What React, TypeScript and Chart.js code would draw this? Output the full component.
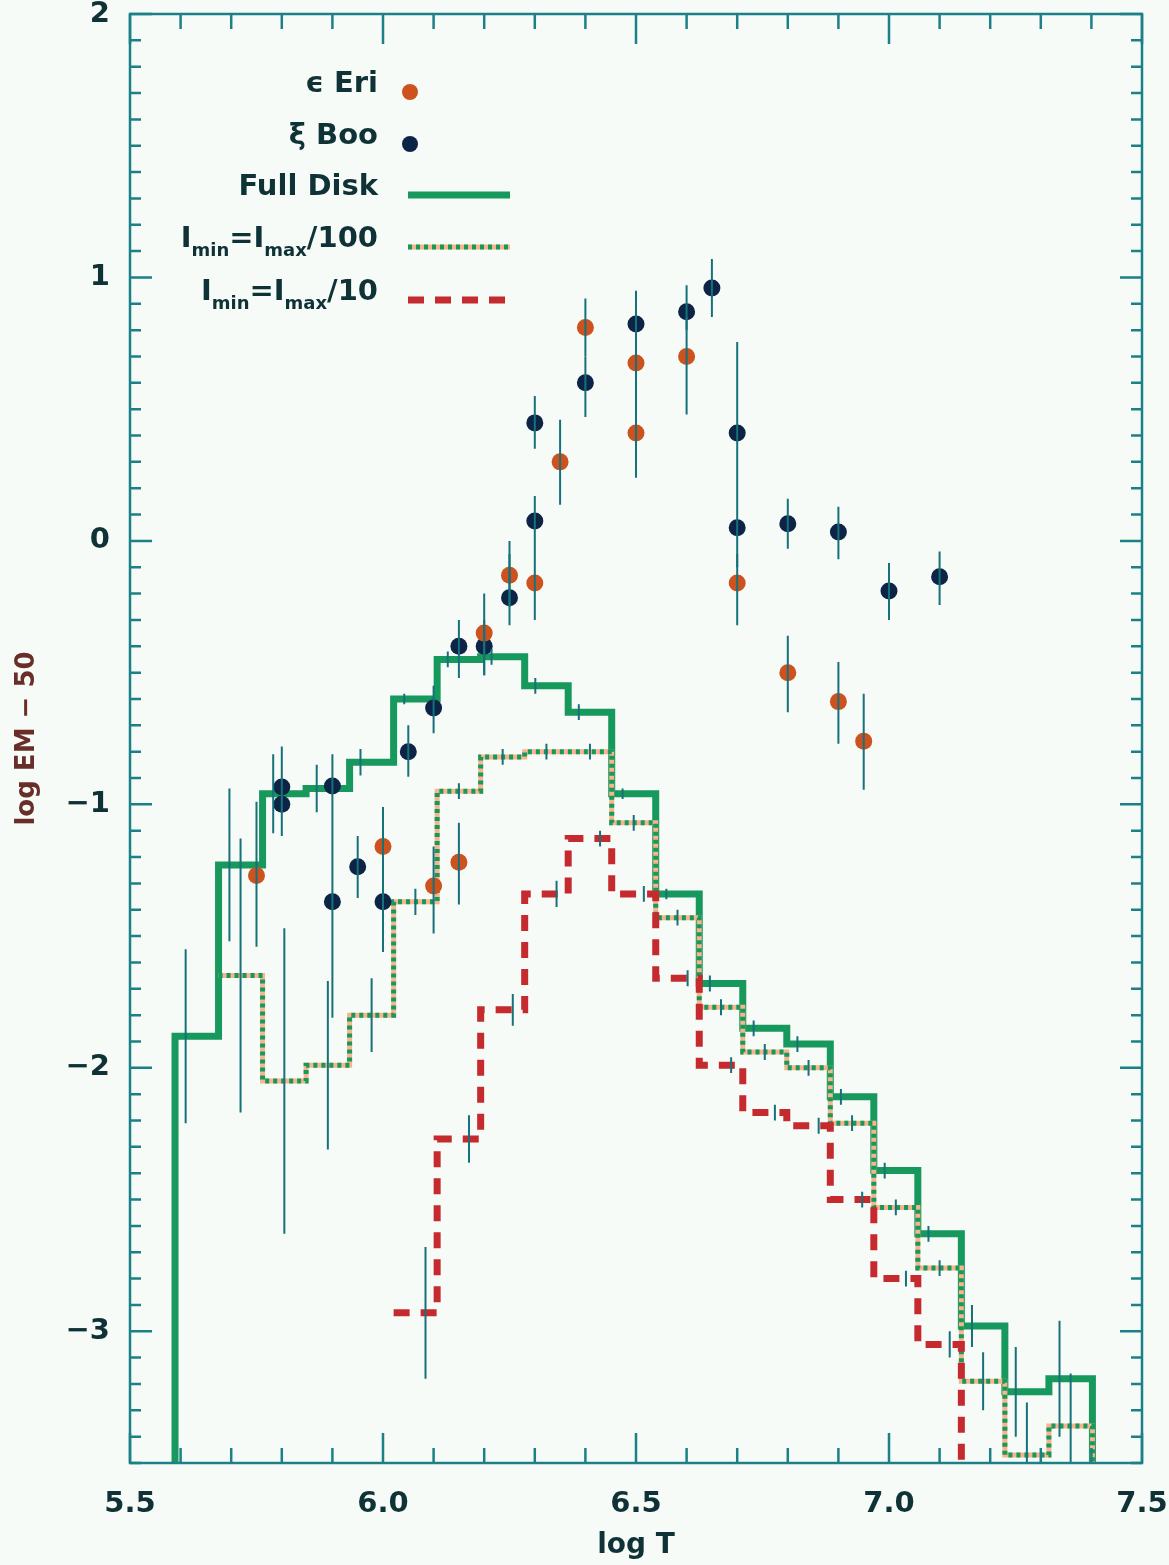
import React, { useEffect, useRef } from "react";
import { Chart, registerables } from "chart.js";

Chart.register(...registerables);

// ---------- tick labels ----------
const X_TICKS = [5.5, 6.0, 6.5, 7.0, 7.5];
const Y_TICKS = [-3, -2, -1, 0, 1, 2];

// ---------- histogram bins (log T edges) ----------
const BIN_EDGES = [
  5.589, 5.675, 5.762, 5.848, 5.934, 6.021, 6.107, 6.193, 6.28, 6.366, 6.452,
  6.539, 6.625, 6.711, 6.798, 6.884, 6.97, 7.057, 7.143, 7.229, 7.316, 7.402,
];
// Full Disk (solid green)
const FULL_DISK = [
  -1.88, -1.23, -0.96, -0.94, -0.84, -0.6, -0.45, -0.44, -0.55, -0.65, -0.96,
  -1.34, -1.68, -1.85, -1.91, -2.11, -2.39, -2.63, -2.98, -3.23, -3.18,
];
const FULL_DISK_ERR = [
  0.33, 0.29, 0.15, 0.09, 0.05, 0.02, 0.03, 0.03, 0.03, 0.03, 0.02, 0.02, 0.03,
  0.03, 0.03, 0.03, 0.03, 0.03, 0.08, 0.17, 0.22,
];
// Imin = Imax/100 (dotted)
const IMAX_100 = [
  null, -1.65, -2.05, -1.99, -1.8, -1.37, -0.95, -0.82, -0.8, -0.8, -1.07,
  -1.43, -1.77, -1.94, -2.0, -2.21, -2.53, -2.76, -3.19, -3.47, -3.36,
];
const IMAX_100_ERR = [
  null, 0.52, 0.58, 0.32, 0.14, 0.05, 0.03, 0.03, 0.03, 0.03, 0.03, 0.03, 0.03,
  0.03, 0.03, 0.03, 0.03, 0.03, 0.11, 0.2, 0.2,
];
// Imin = Imax/10 (dashed red)
const IMAX_10 = [
  null, null, null, null, null, -2.93, -2.27, -1.78, -1.34, -1.13, -1.34,
  -1.66, -1.99, -2.17, -2.22, -2.5, -2.8, -3.05, null, null, null,
];
const IMAX_10_ERR = [
  null, null, null, null, null, 0.25, 0.09, 0.06, 0.05, 0.03, 0.03, 0.03, 0.03,
  0.03, 0.03, 0.03, 0.03, 0.05, null, null, null,
];
// horizontal shift of each histogram's error bars (log T)
const FULL_DISK_ERR_SHIFT = -0.022;
const IMAX_100_ERR_SHIFT = 0.0;
const IMAX_10_ERR_SHIFT = 0.02;

// ---------- eps Eri ----------
const ERI_T = [5.75, 6.0, 6.1, 6.15, 6.2, 6.25, 6.3, 6.35, 6.4, 6.5, 6.5, 6.6, 6.7, 6.8, 6.9, 6.95];
const ERI_EM = [-1.27, -1.16, -1.31, -1.22, -0.35, -0.13, -0.16, 0.3, 0.81, 0.675, 0.41, 0.7, -0.16, -0.5, -0.61, -0.76];
const ERI_LO = [-1.54, -1.35, -1.49, -1.38, -0.51, -0.25, -0.3, 0.137, 0.7, 0.55, 0.24, 0.48, -0.32, -0.65, -0.77, -0.945];
const ERI_HI = [-0.99, -1.01, -1.16, -1.07, -0.2, 0.0, -0.05, 0.46, 0.92, 0.8, 0.55, 0.85, -0.05, -0.36, -0.46, -0.58];

// ---------- xi Boo ----------
const BOO_T = [5.8, 5.8, 5.9, 5.9, 5.95, 6.0, 6.05, 6.1, 6.15, 6.2, 6.25, 6.3, 6.3, 6.4, 6.5, 6.6, 6.65, 6.7, 6.7, 6.8, 6.9, 7.0, 7.1];
const BOO_EM = [-0.934, -1.0, -0.93, -1.37, -1.237, -1.37, -0.8, -0.634, -0.4, -0.4, -0.216, 0.448, 0.076, 0.6, 0.823, 0.87, 0.96, 0.41, 0.05, 0.065, 0.034, -0.19, -0.136];
const BOO_LO = [-1.09, -1.12, -1.0, -1.81, -1.355, -1.56, -0.895, -0.73, -0.52, -0.51, -0.32, 0.35, -0.05, 0.47, 0.7, 0.8, 0.85, 0.2, -0.1, -0.03, -0.07, -0.3, -0.243];
const BOO_HI = [-0.79, -0.78, -0.85, -0.81, -1.12, -1.2, -0.7, -0.55, -0.3, -0.3, -0.05, 0.55, 0.17, 0.7, 0.95, 0.97, 1.07, 0.755, 0.2, 0.16, 0.13, -0.084, -0.04];

// ---------- styles ----------
const BG = "#f7fbf7";
const AXIS = "#1b8088";
const TEXT = "#0f3236";
const ERR_COLOR = "#17717a";
const ERI_COLOR = "#cc5220";
const BOO_COLOR = "#0c2446";
const GREEN = "#17985c";
const DOT_UNDER = "#f6b58a";
const RED = "#c42a2e";
const FONT = "'DejaVu Sans', sans-serif";
const BELOW = -10;

type P = { x: number; y: number | null };

function histPoints(levels: (number | null)[], riseAtStart: boolean, dropAtEnd: boolean): P[] {
  const pts: P[] = [];
  let first = -1;
  let last = -1;
  levels.forEach((v, i) => {
    if (v !== null) {
      if (first < 0) first = i;
      last = i;
    }
  });
  if (riseAtStart) pts.push({ x: BIN_EDGES[first], y: BELOW });
  for (let i = first; i <= last; i++) {
    const v = levels[i];
    pts.push({ x: BIN_EDGES[i], y: v }, { x: BIN_EDGES[i + 1], y: v });
  }
  if (dropAtEnd) pts.push({ x: BIN_EDGES[last + 1], y: BELOW });
  return pts;
}

function histErrPoints(levels: (number | null)[], errs: (number | null)[], shift: number): P[] {
  const pts: P[] = [];
  levels.forEach((v, i) => {
    const e = errs[i];
    if (v === null || e === null) return;
    const x = (BIN_EDGES[i] + BIN_EDGES[i + 1]) / 2 + shift;
    pts.push({ x, y: v - e }, { x, y: v + e }, { x, y: null });
  });
  return pts;
}

function barPoints(xs: number[], lo: number[], hi: number[]): P[] {
  const pts: P[] = [];
  xs.forEach((x, i) => {
    pts.push({ x, y: lo[i] }, { x, y: hi[i] }, { x, y: null });
  });
  return pts;
}

function dots(xs: number[], ys: number[]): P[] {
  return xs.map((x, i) => ({ x, y: ys[i] }));
}

type Seg = { t: string; sub?: boolean };
type LegendItem = { kind: string; label: Seg[] };
const LEGEND_ITEMS: LegendItem[] = [
  { kind: "eri", label: [{ t: "ϵ Eri" }] },
  { kind: "boo", label: [{ t: "ξ Boo" }] },
  { kind: "full", label: [{ t: "Full Disk" }] },
  { kind: "i100", label: [{ t: "I" }, { t: "min", sub: true }, { t: "=I" }, { t: "max", sub: true }, { t: "/100" }] },
  { kind: "i10", label: [{ t: "I" }, { t: "min", sub: true }, { t: "=I" }, { t: "max", sub: true }, { t: "/10" }] },
];

const bgPlugin = {
  id: "bg",
  beforeDraw(chart: any) {
    const { ctx, width, height } = chart;
    ctx.save();
    ctx.fillStyle = BG;
    ctx.fillRect(0, 0, width, height);
    ctx.restore();
  },
};

const framePlugin = {
  id: "frame",
  afterDraw(chart: any) {
    const { ctx, chartArea: a, scales } = chart;
    const xs = scales.x;
    const ys = scales.y;
    ctx.save();
    ctx.strokeStyle = AXIS;
    ctx.lineWidth = 2.5;
    // x ticks every 0.1
    for (let k = 0; k <= 20; k++) {
      const v = 5.5 + k * 0.1;
      const px = xs.getPixelForValue(v);
      const len = k % 5 === 0 ? 30 : 15;
      ctx.beginPath();
      ctx.moveTo(px, a.bottom);
      ctx.lineTo(px, a.bottom - len);
      ctx.moveTo(px, a.top);
      ctx.lineTo(px, a.top + len);
      ctx.stroke();
    }
    for (let k = 0; k <= 55; k++) {
      const v = -3.5 + k * 0.1;
      const py = ys.getPixelForValue(v);
      const len = (k - 5) % 10 === 0 ? 22 : 11;
      ctx.beginPath();
      ctx.moveTo(a.left, py);
      ctx.lineTo(a.left + len, py);
      ctx.moveTo(a.right, py);
      ctx.lineTo(a.right - len, py);
      ctx.stroke();
    }
    ctx.strokeRect(a.left, a.top, a.right - a.left, a.bottom - a.top);

    // legend
    const rightX = a.left + 248;
    const symX0 = a.left + 278;
    const symX1 = a.left + 380;
    const rowsY = [70, 122, 173, 225, 278];
    const bigFont = `bold 29px ${FONT}`;
    const subFont = `bold 18px ${FONT}`;
    LEGEND_ITEMS.forEach((it, r) => {
      const y = a.top + rowsY[r];
      let total = 0;
      it.label.forEach((s) => {
        ctx.font = s.sub ? subFont : bigFont;
        total += ctx.measureText(s.t).width;
      });
      let x = rightX - total;
      ctx.fillStyle = TEXT;
      ctx.textBaseline = "middle";
      ctx.textAlign = "left";
      it.label.forEach((s) => {
        ctx.font = s.sub ? subFont : bigFont;
        ctx.fillText(s.t, x, s.sub ? y + 12 : y);
        x += ctx.measureText(s.t).width;
      });
      const sy = y + 8;
      if (it.kind === "eri" || it.kind === "boo") {
        ctx.fillStyle = it.kind === "eri" ? ERI_COLOR : BOO_COLOR;
        ctx.beginPath();
        ctx.arc(symX0 + 2, sy, 8, 0, Math.PI * 2);
        ctx.fill();
      } else if (it.kind === "full") {
        ctx.strokeStyle = GREEN;
        ctx.lineWidth = 7;
        ctx.setLineDash([]);
        ctx.beginPath();
        ctx.moveTo(symX0, sy);
        ctx.lineTo(symX1, sy);
        ctx.stroke();
      } else if (it.kind === "i100") {
        ctx.strokeStyle = DOT_UNDER;
        ctx.lineWidth = 5;
        ctx.setLineDash([]);
        ctx.beginPath();
        ctx.moveTo(symX0, sy);
        ctx.lineTo(symX1, sy);
        ctx.stroke();
        ctx.strokeStyle = GREEN;
        ctx.setLineDash([4, 4]);
        ctx.beginPath();
        ctx.moveTo(symX0, sy);
        ctx.lineTo(symX1, sy);
        ctx.stroke();
      } else {
        ctx.strokeStyle = RED;
        ctx.lineWidth = 7;
        ctx.setLineDash([16, 11]);
        ctx.beginPath();
        ctx.moveTo(symX0, sy);
        ctx.lineTo(symX1, sy);
        ctx.stroke();
      }
      ctx.setLineDash([]);
    });
    ctx.restore();
  },
};

export default function App() {
  const ref = useRef<HTMLCanvasElement | null>(null);

  useEffect(() => {
    if (!ref.current) return;
    const errLine = (data: P[], order: number) => ({
      type: "line" as const,
      data,
      borderColor: ERR_COLOR,
      borderWidth: 2,
      pointRadius: 0,
      spanGaps: false,
      order,
    });
    const chart = new Chart(ref.current, {
      type: "line",
      data: {
        datasets: [
          errLine(barPoints(ERI_T, ERI_LO, ERI_HI), 0),
          errLine(barPoints(BOO_T, BOO_LO, BOO_HI), 0),
          errLine(histErrPoints(FULL_DISK, FULL_DISK_ERR, FULL_DISK_ERR_SHIFT), 0),
          errLine(histErrPoints(IMAX_100, IMAX_100_ERR, IMAX_100_ERR_SHIFT), 0),
          errLine(histErrPoints(IMAX_10, IMAX_10_ERR, IMAX_10_ERR_SHIFT), 0),
          {
            type: "scatter",
            label: "ϵ Eri",
            data: dots(ERI_T, ERI_EM),
            pointRadius: 8.5,
            pointBackgroundColor: ERI_COLOR,
            pointBorderWidth: 0,
            showLine: false,
            order: 1,
          } as any,
          {
            type: "scatter",
            label: "ξ Boo",
            data: dots(BOO_T, BOO_EM),
            pointRadius: 8.5,
            pointBackgroundColor: BOO_COLOR,
            pointBorderWidth: 0,
            showLine: false,
            order: 1,
          } as any,
          {
            label: "Imin=Imax/10",
            data: histPoints(IMAX_10, false, true),
            borderColor: RED,
            borderWidth: 7,
            borderDash: [16, 11],
            pointRadius: 0,
            order: 2,
          },
          {
            label: "Imin=Imax/100",
            data: histPoints(IMAX_100, false, true),
            borderColor: GREEN,
            borderWidth: 5,
            borderDash: [4, 4],
            pointRadius: 0,
            order: 3,
          },
          {
            label: "Imin=Imax/100 base",
            data: histPoints(IMAX_100, false, true),
            borderColor: DOT_UNDER,
            borderWidth: 5,
            pointRadius: 0,
            order: 4,
          },
          {
            label: "Full Disk",
            data: histPoints(FULL_DISK, true, true),
            borderColor: GREEN,
            borderWidth: 7,
            pointRadius: 0,
            order: 5,
          },
        ] as any,
      },
      options: {
        animation: false,
        responsive: false,
        maintainAspectRatio: false,
        parsing: false as any,
        normalized: true,
        layout: { padding: { top: 14, right: 27, left: 0, bottom: 0 } },
        plugins: { legend: { display: false }, tooltip: { enabled: false } },
        elements: { line: { tension: 0, borderJoinStyle: "miter", borderCapStyle: "butt" } },
        scales: {
          x: {
            type: "linear",
            min: 5.5,
            max: 7.5,
            grid: { display: false, drawTicks: false },
            border: { display: false },
            afterFit: (s: any) => {
              s.height = 102;
              s.paddingLeft = 0;
              s.paddingRight = 0;
            },
            afterBuildTicks: (s: any) => {
              s.ticks = X_TICKS.map((v) => ({ value: v }));
            },
            ticks: {
              callback: (v: any) => Number(v).toFixed(1),
              color: TEXT,
              font: { family: FONT, size: 29, weight: "bold" },
              padding: 24,
              maxRotation: 0,
              autoSkip: false,
            },
            title: {
              display: true,
              text: "log T",
              color: TEXT,
              font: { family: FONT, size: 28, weight: "bold" },
              padding: { top: 0, bottom: 2 },
            },
          },
          y: {
            type: "linear",
            min: -3.5,
            max: 2,
            grid: { display: false, drawTicks: false },
            border: { display: false },
            afterFit: (s: any) => {
              s.width = 130;
              s.paddingTop = 0;
              s.paddingBottom = 0;
            },
            afterBuildTicks: (s: any) => {
              s.ticks = Y_TICKS.map((v) => ({ value: v }));
            },
            ticks: {
              callback: (v: any) => (Number(v) < 0 ? "\u2212" + Math.abs(Number(v)) : String(v)),
              color: TEXT,
              font: { family: FONT, size: 29, weight: "bold" },
              padding: 20,
              autoSkip: false,
            },
            title: {
              display: true,
              text: "log EM \u2212 50",
              color: "#6a2e28",
              font: { family: FONT, size: 26, weight: "bold" },
              padding: { top: 12, bottom: 0 },
            },
          },
        },
      } as any,
      plugins: [bgPlugin, framePlugin],
    });
    return () => chart.destroy();
  }, []);

  return (
    <div style={{ position: "absolute", left: 0, top: 0, width: 1169, height: 1565, background: BG }}>
      <canvas ref={ref} width={1169} height={1565} style={{ display: "block", width: 1169, height: 1565 }} />
    </div>
  );
}
